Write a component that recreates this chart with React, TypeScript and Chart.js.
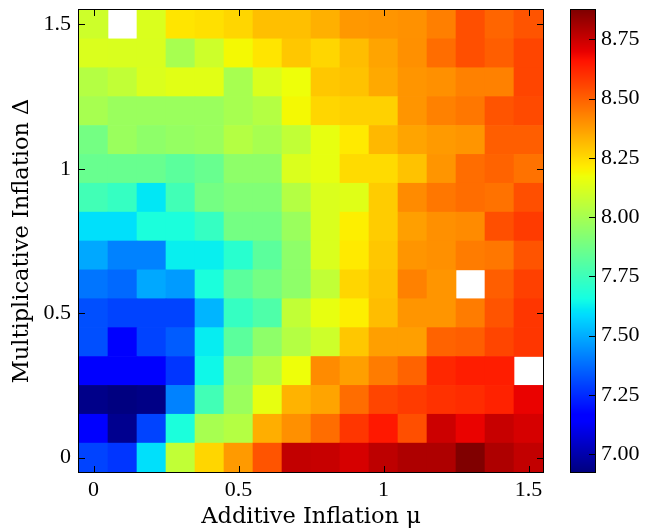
import React, { useEffect, useRef } from "react";
import { Chart, registerables } from "chart.js";

Chart.register(...registerables);

// Grid coordinates
const X_VALUES = [0, 0.1, 0.2, 0.3, 0.4, 0.5, 0.6, 0.7, 0.8, 0.9, 1.0, 1.1, 1.2, 1.3, 1.4, 1.5];
const Y_VALUES = [0, 0.1, 0.2, 0.3, 0.4, 0.5, 0.6, 0.7, 0.8, 0.9, 1.0, 1.1, 1.2, 1.3, 1.4, 1.5];

// Tick labels
const X_TICKS = [0, 0.5, 1, 1.5];
const Y_TICKS = [0, 0.5, 1, 1.5];
const CB_TICKS = [7.0, 7.25, 7.5, 7.75, 8.0, 8.25, 8.5, 8.75];
const CB_MIN = 6.924;
const CB_MAX = 8.874;

// Cell values, rows listed from top (Δ = 1.5) to bottom (Δ = 0); NaN = missing
const Z_TOP_DOWN: number[][] = [
  [8.093, NaN, 8.123, 8.226, 8.237, 8.257, 8.305, 8.305, 8.335, 8.385, 8.39, 8.4, 8.437, 8.535, 8.49, 8.525],
  [8.123, 8.12, 8.12, 8.003, 8.093, 8.184, 8.226, 8.288, 8.257, 8.309, 8.36, 8.401, 8.474, 8.535, 8.504, 8.556],
  [8.033, 8.063, 8.123, 8.141, 8.141, 8.003, 8.123, 8.171, 8.288, 8.298, 8.35, 8.391, 8.401, 8.432, 8.432, 8.556],
  [8.003, 7.972, 7.972, 7.972, 7.972, 8.003, 8.033, 8.184, 8.257, 8.267, 8.267, 8.391, 8.432, 8.453, 8.525, 8.546],
  [7.882, 7.972, 7.942, 7.96, 7.972, 8.033, 8.003, 8.063, 8.153, 8.215, 8.319, 8.36, 8.381, 8.391, 8.504, 8.504],
  [7.852, 7.852, 7.852, 7.822, 7.852, 7.942, 7.942, 8.123, 8.153, 8.247, 8.247, 8.298, 8.391, 8.474, 8.494, 8.463],
  [7.761, 7.731, 7.61, 7.761, 7.882, 7.912, 7.912, 8.033, 8.123, 8.136, 8.278, 8.412, 8.453, 8.474, 8.463, 8.535],
  [7.596, 7.596, 7.671, 7.671, 7.731, 7.882, 7.882, 7.972, 8.123, 8.206, 8.278, 8.371, 8.401, 8.412, 8.535, 8.577],
  [7.489, 7.416, 7.416, 7.625, 7.625, 7.701, 7.822, 7.942, 8.123, 8.215, 8.288, 8.391, 8.401, 8.443, 8.453, 8.525],
  [7.392, 7.368, 7.489, 7.465, 7.671, 7.822, 7.882, 7.942, 8.063, 8.257, 8.298, 8.432, 8.391, NaN, 8.504, 8.566],
  [7.319, 7.295, 7.295, 7.295, 7.514, 7.731, 7.792, 8.063, 8.153, 8.206, 8.309, 8.391, 8.391, 8.443, 8.525, 8.587],
  [7.319, 7.16, 7.295, 7.343, 7.62, 7.822, 7.942, 8.033, 8.093, 8.288, 8.371, 8.371, 8.494, 8.504, 8.556, 8.587],
  [7.16, 7.16, 7.16, 7.27, 7.641, 7.942, 8.033, 8.171, 8.412, 8.371, 8.443, 8.494, 8.618, 8.638, 8.638, NaN],
  [6.94, 6.924, 6.935, 7.416, 7.761, 7.972, 8.153, 8.329, 8.36, 8.474, 8.556, 8.577, 8.597, 8.607, 8.628, 8.695],
  [7.16, 6.95, 7.295, 7.671, 8.003, 8.033, 8.34, 8.401, 8.474, 8.587, 8.648, 8.535, 8.745, 8.695, 8.754, 8.728],
  [7.295, 7.27, 7.596, 8.063, 8.257, 8.381, 8.525, 8.762, 8.754, 8.728, 8.77, 8.796, 8.796, 8.874, 8.796, 8.762],
];

const X_TITLE = "Additive Inflation \u03bc";
const Y_TITLE = "Multiplicative Inflation \u0394";

// matplotlib "jet" colormap segment data
const JET: Record<string, number[][]> = {
  r: [[0, 0], [0.35, 0], [0.66, 1], [0.89, 1], [1, 0.5]],
  g: [[0, 0], [0.125, 0], [0.375, 1], [0.64, 1], [0.91, 0], [1, 0]],
  b: [[0, 0.5], [0.11, 1], [0.34, 1], [0.65, 0], [1, 0]],
};

function seg(points: number[][], t: number): number {
  for (let i = 1; i < points.length; i++) {
    if (t <= points[i][0]) {
      const [x0, y0] = points[i - 1];
      const [x1, y1] = points[i];
      return y0 + ((t - x0) / (x1 - x0)) * (y1 - y0);
    }
  }
  return points[points.length - 1][1];
}

function jet(t: number): string {
  const tt = Math.max(0, Math.min(1, t));
  const r = Math.round(seg(JET.r, tt) * 255);
  const g = Math.round(seg(JET.g, tt) * 255);
  const b = Math.round(seg(JET.b, tt) * 255);
  return `rgb(${r},${g},${b})`;
}

function colorFor(v: number): string {
  return jet((v - CB_MIN) / (CB_MAX - CB_MIN));
}

function fmtTick(v: number): string {
  return String(v);
}

const TICK_FONT = { family: "'Liberation Serif', serif", size: 22 };
const TITLE_FONT = { family: "'DejaVu Serif', serif", size: 22.5 };

const framePlugin = {
  id: "frameTicks",
  afterDraw(chart: any) {
    const { ctx, chartArea } = chart;
    const { left, right, top, bottom } = chartArea;
    const xs = chart.scales.x;
    const ys = chart.scales.y;
    ctx.save();
    ctx.strokeStyle = "#000";
    ctx.lineWidth = 1;
    ctx.beginPath();
    const L = 6;
    X_TICKS.forEach((v) => {
      const idx = X_VALUES.findIndex((x) => Math.abs(x - v) < 1e-9);
      const px = Math.round(xs.getPixelForValue(idx)) + 0.5;
      ctx.moveTo(px, bottom);
      ctx.lineTo(px, bottom - L);
      ctx.moveTo(px, top);
      ctx.lineTo(px, top + L);
    });
    Y_TICKS.forEach((v) => {
      const py = Math.round(ys.getPixelForValue(v)) + 0.5;
      ctx.moveTo(left, py);
      ctx.lineTo(left + L, py);
      ctx.moveTo(right, py);
      ctx.lineTo(right - L, py);
    });
    ctx.stroke();
    ctx.strokeRect(left - 0.5, top - 0.5, right - left + 1, bottom - top + 1);
    ctx.restore();
  },
};

const colorbarPlugin = {
  id: "colorbar",
  afterDraw(chart: any) {
    const { ctx, chartArea } = chart;
    const { left, right, top, bottom } = chartArea;
    const ys = chart.scales.y;
    ctx.save();
    for (let py = Math.floor(top); py < Math.ceil(bottom); py++) {
      const v = ys.getValueForPixel(py + 0.5);
      ctx.fillStyle = colorFor(v);
      const y0 = Math.max(py, top);
      const y1 = Math.min(py + 1, bottom);
      ctx.fillRect(left, y0, right - left, y1 - y0);
    }
    ctx.strokeStyle = "#000";
    ctx.lineWidth = 1;
    ctx.beginPath();
    CB_TICKS.forEach((v) => {
      const py = Math.round(ys.getPixelForValue(v)) + 0.5;
      ctx.moveTo(right, py);
      ctx.lineTo(right - 6, py);
    });
    ctx.stroke();
    ctx.strokeRect(left - 0.5, top - 0.5, right - left + 1, bottom - top + 1);
    ctx.restore();
  },
};

export default function App() {
  const mainRef = useRef<HTMLCanvasElement | null>(null);
  const cbRef = useRef<HTMLCanvasElement | null>(null);

  useEffect(() => {
    if (!mainRef.current || !cbRef.current) return;

    const datasets = Y_VALUES.map((y, i) => {
      const row = Z_TOP_DOWN[Y_VALUES.length - 1 - i];
      return {
        label: `Δ=${y}`,
        data: row.map((v) => (isNaN(v) ? null : [y - 0.05, y + 0.05])),
        backgroundColor: row.map((v) => (isNaN(v) ? "rgba(0,0,0,0)" : colorFor(v))),
        borderWidth: 0,
        barPercentage: 1,
        categoryPercentage: 1,
        grouped: false,
      };
    });

    const main = new Chart(mainRef.current, {
      type: "bar",
      data: { labels: X_VALUES.map(String), datasets: datasets as any },
      options: {
        responsive: false,
        animation: false,
        devicePixelRatio: 1,
        layout: { padding: { top: 10, right: 112, bottom: 0, left: 0 } },
        plugins: { legend: { display: false }, tooltip: { enabled: false } },
        scales: {
          x: {
            type: "category",
            offset: true,
            grid: { display: false, drawTicks: false },
            border: { display: false },
            ticks: {
              autoSkip: false,
              maxRotation: 0,
              minRotation: 0,
              padding: 5,
              color: "#000",
              font: TICK_FONT,
              callback: (_v: any, i: number) => {
                const x = X_VALUES[i];
                return X_TICKS.some((t) => Math.abs(t - x) < 1e-9) ? fmtTick(x) : "";
              },
            },
            title: {
              display: true,
              text: X_TITLE,
              color: "#000",
              font: TITLE_FONT,
              padding: { top: 0, bottom: -2 },
            },
            afterFit: (s: any) => {
              s.height = 57;
              s.paddingLeft = 0;
              s.paddingRight = 0;
            },
          },
          y: {
            type: "linear",
            min: -0.05,
            max: 1.55,
            grid: { display: false, drawTicks: false },
            border: { display: false },
            afterBuildTicks: (s: any) => {
              s.ticks = Y_TICKS.map((v) => ({ value: v }));
            },
            ticks: {
              padding: 8,
              color: "#000",
              font: TICK_FONT,
              callback: (v: any) => fmtTick(Number(v)),
            },
            title: {
              display: true,
              text: Y_TITLE,
              color: "#000",
              font: TITLE_FONT,
              padding: { top: 9, bottom: 0 },
            },
            afterFit: (s: any) => {
              s.width = 79;
              s.paddingTop = 0;
              s.paddingBottom = 0;
            },
          },
        },
      },
      plugins: [framePlugin],
    });

    const cb = new Chart(cbRef.current, {
      type: "bar",
      data: { labels: [""], datasets: [] },
      options: {
        responsive: false,
        animation: false,
        devicePixelRatio: 1,
        layout: { padding: { top: 10, right: 0, bottom: 57, left: 571 } },
        plugins: { legend: { display: false }, tooltip: { enabled: false } },
        scales: {
          x: { display: false },
          y: {
            type: "linear",
            position: "right",
            min: CB_MIN,
            max: CB_MAX,
            grid: { display: false, drawTicks: false },
            border: { display: false },
            afterBuildTicks: (s: any) => {
              s.ticks = CB_TICKS.map((v) => ({ value: v }));
            },
            ticks: {
              padding: 6,
              color: "#000",
              font: TICK_FONT,
              callback: (v: any) => Number(v).toFixed(2),
            },
            afterFit: (s: any) => {
              s.width = 60;
              s.paddingTop = 0;
              s.paddingBottom = 0;
            },
          },
        },
      },
      plugins: [colorbarPlugin],
    });

    return () => {
      main.destroy();
      cb.destroy();
    };
  }, []);

  return (
    <div style={{ position: "absolute", left: 0, top: 0, width: 655, height: 529, background: "#fff" }}>
      <canvas ref={mainRef} width={655} height={529} style={{ position: "absolute", left: 0, top: 0 }} />
      <canvas ref={cbRef} width={655} height={529} style={{ position: "absolute", left: 0, top: 0 }} />
    </div>
  );
}
